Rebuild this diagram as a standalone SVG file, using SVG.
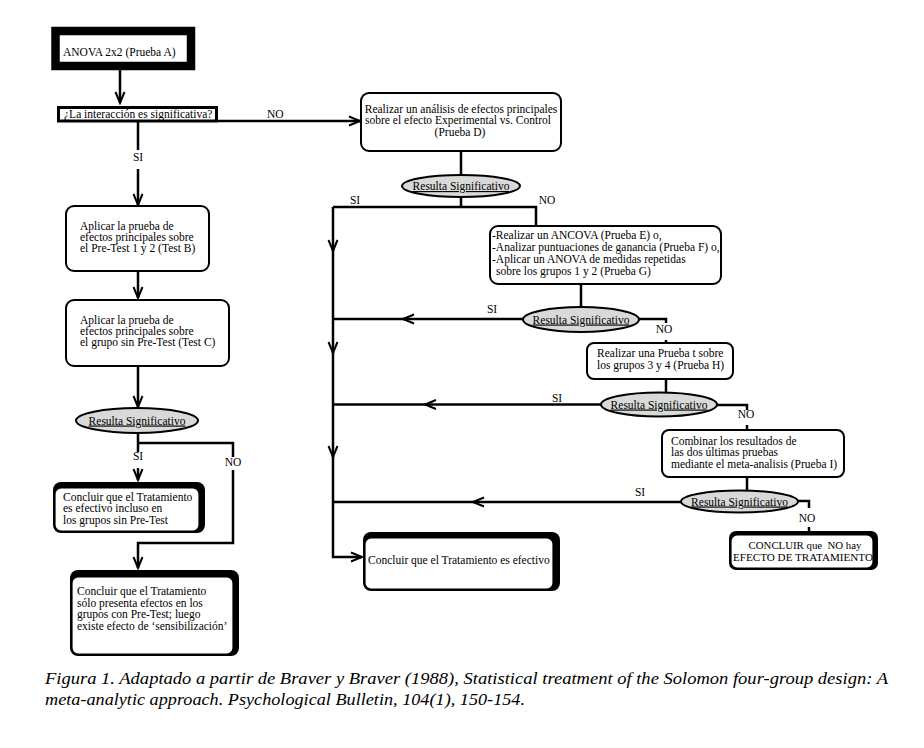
<svg xmlns="http://www.w3.org/2000/svg" width="924" height="748" viewBox="0 0 924 748">
<style>
text{font-family:"Liberation Serif","Times New Roman",serif;font-size:11.5px;fill:#000}
.lbl{font-size:11.5px}
.box{fill:#fff;stroke:#000;stroke-width:2}
.shadow{fill:#000;stroke:none}
.inner{fill:#fff;stroke:#000;stroke-width:1.2}
.dec{fill:#d9d9d9;stroke:#000;stroke-width:2}
.dt{text-decoration:underline;text-anchor:middle}
.c{fill:none;stroke:#000;stroke-width:2.5}
.cap{font-style:italic;font-size:17px}
.sm{font-size:10.8px}
</style>
<defs>
<marker id="arr" markerUnits="userSpaceOnUse" markerWidth="14" markerHeight="12" refX="12" refY="6" orient="auto" viewBox="0 0 14 12">
<path d="M1,1.5 L12,6 L1,10.5" fill="none" stroke="#000" stroke-width="2"/>
</marker>
</defs>
<rect width="924" height="748" fill="#fff"/>

<g id="connectors">
<path class="c" d="M120,70 V103" marker-end="url(#arr)"/>
<path class="c" d="M218,121 H360" marker-end="url(#arr)"/>
<path class="c" d="M138,122 V150"/>
<path class="c" d="M138,169 V205" marker-end="url(#arr)"/>
<path class="c" d="M138,271 V298" marker-end="url(#arr)"/>
<path class="c" d="M138,366 V407" marker-end="url(#arr)"/>
<path class="c" d="M138,433 V452"/>
<path class="c" d="M138,468 V480" marker-end="url(#arr)"/>
<path class="c" d="M138,443 H233 V457"/>
<path class="c" d="M233,470 V543 H138 V568" marker-end="url(#arr)"/>
<path class="c" d="M461,151 V175"/>
<path class="c" d="M461,197 V207"/>
<path class="c" d="M333,207 H536 V226"/>
<path class="c" d="M333,207 V251" marker-end="url(#arr)"/>
<path class="c" d="M333,250 V353" marker-end="url(#arr)"/>
<path class="c" d="M333,352 V457" marker-end="url(#arr)"/>
<path class="c" d="M333,456 V557 H362" marker-end="url(#arr)"/>
<path class="c" d="M581,284 V307"/>
<path class="c" d="M523,319 H403" marker-end="url(#arr)"/>
<path class="c" d="M404,319 H333"/>
<path class="c" d="M639,319 H666 V323"/>
<path class="c" d="M666,340 V343"/>
<path class="c" d="M666,379 V392"/>
<path class="c" d="M601,404.5 H425" marker-end="url(#arr)"/>
<path class="c" d="M426,404.5 H333"/>
<path class="c" d="M717,405 H747 V410"/>
<path class="c" d="M747,425 V430"/>
<path class="c" d="M747,477 V491"/>
<path class="c" d="M681,502 H473" marker-end="url(#arr)"/>
<path class="c" d="M474,502 H333"/>
<path class="c" d="M798,501 H809 V508"/>
<path class="c" d="M809,527 V531"/>
<text x="267" y="118" class="lbl">NO</text>
<text x="138" y="161" class="lbl" text-anchor="middle">SI</text>
<text x="138" y="460" class="lbl" text-anchor="middle">SI</text>
<text x="233" y="466" class="lbl" text-anchor="middle">NO</text>
<text x="355" y="204" class="lbl" text-anchor="middle">SI</text>
<text x="547" y="204" class="lbl" text-anchor="middle">NO</text>
<text x="492" y="313" class="lbl" text-anchor="middle">SI</text>
<text x="664" y="333" class="lbl" text-anchor="middle">NO</text>
<text x="557" y="402" class="lbl" text-anchor="middle">SI</text>
<text x="746" y="418" class="lbl" text-anchor="middle">NO</text>
<text x="640" y="496" class="lbl" text-anchor="middle">SI</text>
<text x="807" y="522" class="lbl" text-anchor="middle">NO</text>
</g>

<g id="nodeA">
<rect x="55.5" y="31" width="135.5" height="35" fill="#fff" stroke="#000" stroke-width="8.5"/>
<text x="63" y="56">ANOVA 2x2 (Prueba A)</text>
</g>

<g id="nodeQ">
<rect x="58.5" y="107.5" width="158" height="13.5" fill="#fff" stroke="#000" stroke-width="3"/>
<text x="64" y="117.5">¿La interacción es significativa?</text>
</g>

<g id="nodeB">
<rect class="box" x="66" y="206" width="143" height="65" rx="8"/>
<text x="80" y="230">Aplicar la prueba de</text>
<text x="80" y="241">efectos principales sobre</text>
<text x="80" y="252">el Pre-Test 1 y 2 (Test B)</text>
</g>

<g id="nodeC">
<rect class="box" x="66" y="300" width="163" height="66" rx="8"/>
<text x="80" y="324">Aplicar la prueba de</text>
<text x="80" y="335">efectos principales sobre</text>
<text x="80" y="346">el grupo sin Pre-Test (Test C)</text>
</g>

<g id="dec1">
<ellipse class="dec" cx="137" cy="420.5" rx="61" ry="12.5"/>
<text class="dt" x="137" y="424.5">Resulta Significativo</text>
</g>

<g id="nodeD1">
<rect class="shadow" x="53" y="482" width="152" height="51" rx="8"/>
<rect class="inner" x="55" y="488" width="144" height="43" rx="6"/>
<text x="63" y="501">Concluir que el Tratamiento</text>
<text x="63" y="512">es efectivo incluso en</text>
<text x="63" y="523.5">los grupos sin Pre-Test</text>
</g>

<g id="nodeD2">
<rect class="shadow" x="70" y="570" width="169" height="86" rx="8"/>
<rect class="inner" x="72" y="577" width="161" height="77" rx="6"/>
<text x="77" y="595">Concluir que el Tratamiento</text>
<text x="77" y="606.5">sólo presenta efectos en los</text>
<text x="77" y="618">grupos con Pre-Test; luego</text>
<text x="77" y="629.5">existe efecto de ‘sensibilización’</text>
</g>

<g id="nodeD">
<rect class="box" x="361" y="93" width="200" height="58" rx="8"/>
<text x="461" y="113" text-anchor="middle">Realizar un análisis de efectos principales</text>
<text x="458" y="124" text-anchor="middle">sobre el efecto Experimental vs. Control</text>
<text x="460" y="135.5" text-anchor="middle">(Prueba D)</text>
</g>

<g id="dec2">
<ellipse class="dec" cx="461" cy="186" rx="59" ry="11"/>
<text class="dt" x="461" y="190">Resulta Significativo</text>
</g>

<g id="nodeE">
<rect class="box" x="490" y="226" width="231" height="58" rx="8"/>
<text x="492" y="239">-Realizar un ANCOVA (Prueba E) o,</text>
<text x="492" y="251">-Analizar puntuaciones de ganancia (Prueba F) o,</text>
<text x="492" y="263">-Aplicar un ANOVA de medidas repetidas</text>
<text x="496" y="275">sobre los grupos 1 y 2 (Prueba G)</text>
</g>

<g id="dec3">
<ellipse class="dec" cx="581" cy="319.5" rx="58" ry="12.5"/>
<text class="dt" x="581" y="323.5">Resulta Significativo</text>
</g>

<g id="nodeF">
<rect class="box" x="587" y="343" width="146" height="36" rx="7"/>
<text x="597" y="357">Realizar una Prueba t sobre</text>
<text x="597" y="368.5">los grupos 3 y 4 (Prueba H)</text>
</g>

<g id="dec4">
<ellipse class="dec" cx="659" cy="404.5" rx="58" ry="12"/>
<text class="dt" x="659" y="408.5">Resulta Significativo</text>
</g>

<g id="nodeG">
<rect class="box" x="662" y="430" width="182" height="47" rx="7"/>
<text x="671" y="445">Combinar los resultados de</text>
<text x="671" y="456">las dos últimas pruebas</text>
<text x="671" y="467.5">mediante el meta-analisis (Prueba I)</text>
</g>

<g id="dec5">
<ellipse class="dec" cx="739.5" cy="501.5" rx="58.5" ry="11"/>
<text class="dt" x="739.5" y="505.5">Resulta Significativo</text>
</g>

<g id="nodeFinal">
<rect class="shadow" x="363" y="532" width="197" height="59" rx="8"/>
<rect class="inner" x="365" y="538" width="188" height="51" rx="6"/>
<text x="368" y="564">Concluir que el Tratamiento es efectivo</text>
</g>

<g id="nodeH">
<rect class="shadow" x="729" y="531" width="149" height="39" rx="7"/>
<rect class="inner" x="731" y="535" width="142" height="33" rx="6"/>
<text class="sm" x="805" y="548.5" text-anchor="middle" xml:space="preserve">CONCLUIR que  NO hay</text>
<text class="sm" x="803" y="560.5" text-anchor="middle" textLength="140" lengthAdjust="spacingAndGlyphs">EFECTO DE TRATAMIENTO</text>
</g>

<g id="caption">
<text class="cap" x="45" y="684" textLength="843" lengthAdjust="spacingAndGlyphs">Figura 1. Adaptado a partir de Braver y Braver (1988), Statistical treatment of the Solomon four-group design: A</text>
<text class="cap" x="45" y="705" textLength="480" lengthAdjust="spacingAndGlyphs">meta-analytic approach. Psychological Bulletin, 104(1), 150-154.</text>
</g>
</svg>
